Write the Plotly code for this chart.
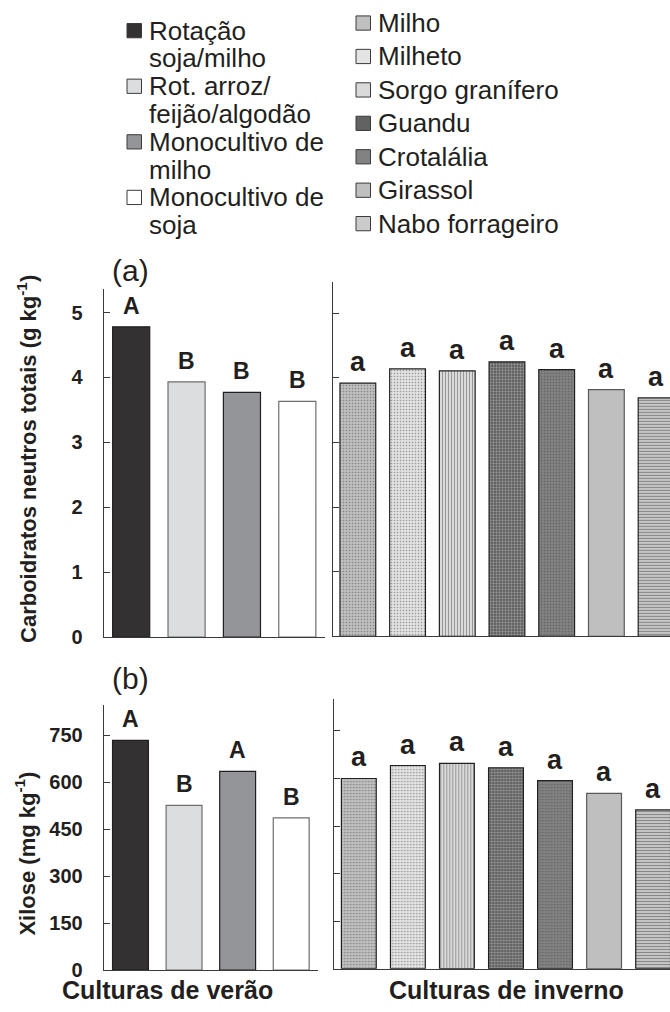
import plotly.graph_objects as go

# ---- data -------------------------------------------------------------
summer_crops = ["Rotação soja/milho", "Rot. arroz/feijão/algodão",
                "Monocultivo de milho", "Monocultivo de soja"]
winter_crops = ["Milho", "Milheto", "Sorgo granífero", "Guandu",
                "Crotalália", "Girassol", "Nabo forrageiro"]

# (a) total neutral carbohydrates, g kg-1
carb_summer = [4.78, 3.93, 3.77, 3.63]
carb_winter = [3.92, 4.14, 4.11, 4.25, 4.13, 3.82, 3.69]
# (b) xylose, mg kg-1
xil_summer = [734, 526, 635, 486]
xil_winter = [600, 641, 648, 634, 593, 553, 501]

# mean-comparison letters
carb_summer_letters = ["A", "B", "B", "B"]
carb_winter_letters = ["a", "a", "a", "a", "a", "a", "a"]
xil_summer_letters = ["A", "B", "A", "B"]
xil_winter_letters = ["a", "a", "a", "a", "a", "a", "a"]

carb_ticks = [0, 1, 2, 3, 4, 5]
xil_ticks = [0, 150, 300, 450, 600, 750]

summer_legend_lines = [["Rotação", "soja/milho"],
                       ["Rot. arroz/", "feijão/algodão"],
                       ["Monocultivo de", "milho"],
                       ["Monocultivo de", "soja"]]

# ---- styling ----------------------------------------------------------
W, H = 670, 1012
FONT = "Liberation Sans"
INK = "#231f20"
AXIS = "#3a3a3a"

summer_fill = ["#333132", "#dcdddf", "#939598", "#ffffff"]
summer_edge = ["#231f20", "#6d6e71", "#231f20", "#6d6e71"]

winter_fill = ["#c0c0c0", "#e4e4e4", "#dadada", "#626262", "#828282", "#bfbfbf", "#cbcbcb"]
winter_shape = [".", ".", "|", "+", ".", "", "-"]
winter_fg = ["#b9b9b9", "#dcdcdc", "#cdcdcd", "#555555", "#7b7b7b", "#bfbfbf", "#a6a6a6"]
winter_solid = [0.25, 0.25, 0.3, 0.25, 0.25, 0.3, 0.4]
winter_edge = ["#231f20", "#231f20", "#231f20", "#231f20", "#231f20", "#58595b", "#231f20"]


def px_x(x):
    return x / W


def px_y(y):
    return 1 - y / H


fig = go.Figure()

panels = [
    # x axis, y axis, categories, values, letters, group, bar width
    ("x", "y", summer_crops, carb_summer, carb_summer_letters, "summer", 0.67),
    ("x2", "y2", winter_crops, carb_winter, carb_winter_letters, "winter", 0.72),
    ("x3", "y3", summer_crops, xil_summer, xil_summer_letters, "summer", 0.67),
    ("x4", "y4", winter_crops, xil_winter, xil_winter_letters, "winter", 0.71),
]

for xa, ya, cats, vals, letters, kind, bw in panels:
    if kind == "summer":
        marker = dict(color=summer_fill, line=dict(color=summer_edge, width=1.2))
        letter_size, shift = 23, 6
    else:
        marker = dict(color=winter_fill, line=dict(color=winter_edge, width=1.2),
                      pattern=dict(shape=winter_shape, fgcolor=winter_fg,
                                   size=3, solidity=winter_solid))
        letter_size, shift = 27, 4
    fig.add_trace(go.Bar(x=cats, y=vals, xaxis=xa, yaxis=ya, width=bw,
                         marker=marker, showlegend=False, hoverinfo="x+y"))
    for c, v, t in zip(cats, vals, letters):
        fig.add_annotation(x=c, y=v, xref=xa, yref=ya, text=t, showarrow=False,
                           yanchor="bottom", yshift=shift,
                           font=dict(family=FONT, size=letter_size, color=INK,
                                     weight="bold"))

tickfont = dict(family=FONT, size=20, color=INK, weight="bold")


def xaxis(domain, rng, anchor):
    return dict(domain=domain, range=rng, anchor=anchor, type="category",
                showline=True, linecolor=AXIS, linewidth=1, ticks="",
                showticklabels=False, showgrid=False, zeroline=False)


def yaxis(domain, rng, ticks, anchor, labels):
    return dict(domain=domain, range=rng, anchor=anchor, tickvals=ticks,
                ticks="inside", ticklen=6, tickcolor=AXIS, tickwidth=1,
                showline=True, linecolor=AXIS, linewidth=1,
                showticklabels=labels, tickfont=tickfont, ticklabelstandoff=16,
                showgrid=False, zeroline=False)


fig.update_layout(
    width=W, height=H,
    margin=dict(l=0, r=0, t=0, b=0),
    paper_bgcolor="white", plot_bgcolor="white",
    xaxis=xaxis([px_x(103.5), px_x(325)], [-0.5, 3.5], "y"),
    yaxis=yaxis([px_y(644), px_y(292)], [0, 5.365], carb_ticks, "x", True),
    xaxis2=xaxis([px_x(333), 1.0], [-0.5, 6.28], "y2"),
    yaxis2=yaxis([px_y(643.3), px_y(285)], [0, 5.487], carb_ticks, "x2", False),
    xaxis3=xaxis([px_x(103.7), px_x(318)], [-0.5, 3.5], "y3"),
    yaxis3=yaxis([px_y(980.7), px_y(712.7)], [0, 847], xil_ticks, "x3", True),
    xaxis4=xaxis([px_x(334.3), 1.0], [-0.5, 6.344], "y4"),
    yaxis4=yaxis([px_y(979.3), px_y(706.7)], [0, 850.8], xil_ticks, "x4", False),
)


def paper_text(x, y, text, size, bold=False, angle=0, xanchor="center"):
    fig.add_annotation(x=px_x(x), y=px_y(y), xref="paper", yref="paper",
                       text=text, showarrow=False, textangle=angle,
                       xanchor=xanchor, yanchor="middle",
                       font=dict(family=FONT, size=size, color=INK,
                                 weight="bold" if bold else "normal"))


# axis titles and panel tags
paper_text(27, 464, "Carboidratos neutros totais (g kg<sup>-1</sup>)", 22, True, -90)
paper_text(25, 863, "Xilose (mg kg<sup>-1</sup>)", 22, True, -90)
paper_text(167, 1001, "Culturas de verão", 25, True)
paper_text(506, 1001, "Culturas de inverno", 25, True)
paper_text(130, 273, "(a)", 30)
paper_text(130, 686, "(b)", 30)

# legend, summer crops (two lines per entry)
line_y = 31.0
for i, lines in enumerate(summer_legend_lines):
    fig.add_shape(type="rect", xref="paper", yref="paper",
                  x0=px_x(127), x1=px_x(141.5), y0=px_y(line_y - 7.2), y1=px_y(line_y + 7.2),
                  fillcolor=summer_fill[i], line=dict(color="#3a3a3a", width=1))
    for ln in lines:
        paper_text(147, line_y, ln, 26, xanchor="left")
        line_y += 28.1

# legend, winter crops
for i, name in enumerate(winter_crops):
    yc = 23.3 + i * 33.8
    fig.add_shape(type="rect", xref="paper", yref="paper",
                  x0=px_x(356), x1=px_x(370.5), y0=px_y(yc - 7.2), y1=px_y(yc + 7.2),
                  fillcolor=winter_fill[i], line=dict(color="#3a3a3a", width=1))
    paper_text(376.5, yc, name, 26, xanchor="left")

fig.write_html("out.html")
